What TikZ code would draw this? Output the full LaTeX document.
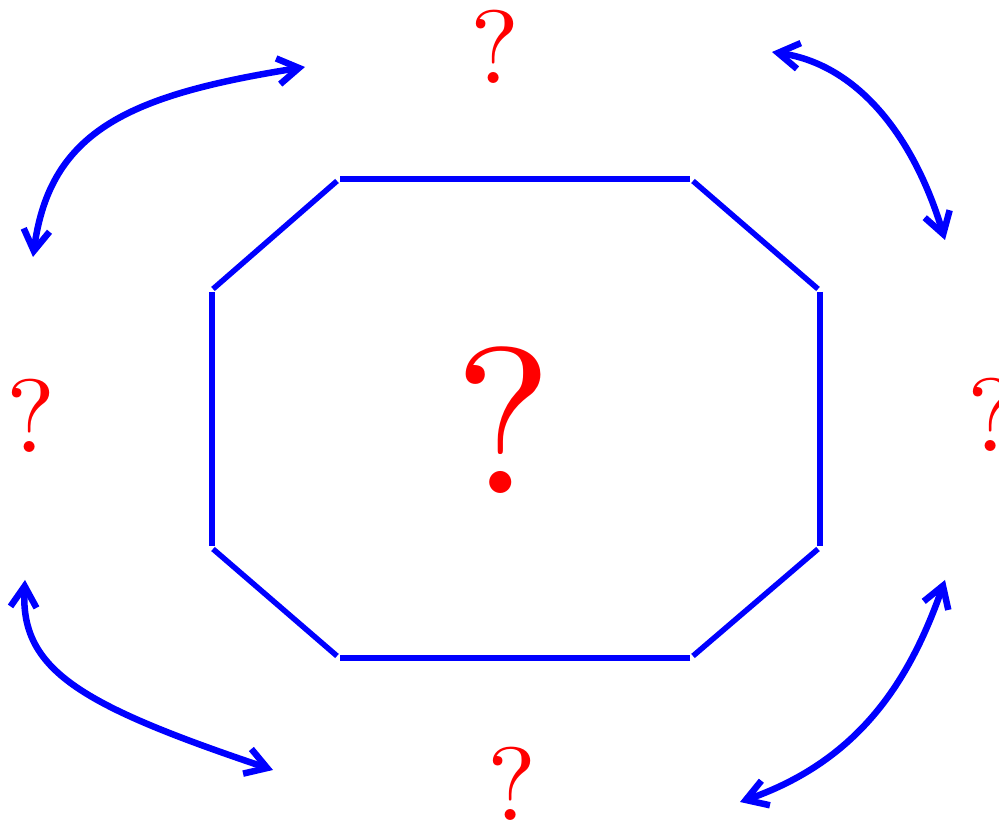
\documentclass[tikz,border=0pt]{standalone}
\usepackage{fontspec}
\newfontfamily\qfont{lmroman10-regular.otf}
\usetikzlibrary{arrows.meta}
\begin{document}
\begin{tikzpicture}[x=0.01cm,y=-0.01cm,
  octoside/.style={blue, line width=0.055cm, line cap=butt},
  dblarrow/.style={blue, line width=0.065cm, line cap=round,
    {Straight Barb[length=0.21cm,width=0.26cm]}-{Straight Barb[length=0.21cm,width=0.26cm]}},
  qsmall/.style={red, inner sep=0pt, font=\qfont\fontsize{29.6}{30}\selectfont},
  qbig/.style={red, inner sep=0pt, font=\qfont\fontsize{59.2}{60}\selectfont}]
\useasboundingbox (0,0) rectangle (999,822);

% octagon (separate sides)
\draw[octoside] (340,179) -- (690,179);
\draw[octoside] (693,181) -- (818,289);
\draw[octoside] (820,292) -- (820,546);
\draw[octoside] (818,549) -- (693,656);
\draw[octoside] (690,658) -- (340,658);
\draw[octoside] (337,656) -- (213,549);
\draw[octoside] (212,546) -- (212,292);
\draw[octoside] (213,289) -- (337,181);

% question marks
\node[qbig]   (qc) at (504,420) {?};
\node[qsmall] (qt) at (495,47)  {?};
\node[qsmall] (ql) at (31,416)  {?};
\node[qsmall] (qb) at (512,784) {?};
\node[qsmall] (qr) at (992,415) {?};

% arrow end points
\coordinate (tlA) at (33,257);
\coordinate (tlB) at (305,67);
\coordinate (trA) at (772,52);
\coordinate (trB) at (945,240);
\coordinate (blA) at (25,580);
\coordinate (blB) at (273,770);
\coordinate (brA) at (945,580);
\coordinate (brB) at (740,802);

\draw[dblarrow] (tlA) .. controls (50,130) and (130,95) .. (tlB);
\draw[dblarrow] (trA) .. controls (860,65) and (915,140) .. (trB);
\draw[dblarrow] (blA) .. controls (20,670) and (80,705) .. (blB);
\draw[dblarrow] (brA) .. controls (910,680) and (860,760) .. (brB);
\end{tikzpicture}
\end{document}
